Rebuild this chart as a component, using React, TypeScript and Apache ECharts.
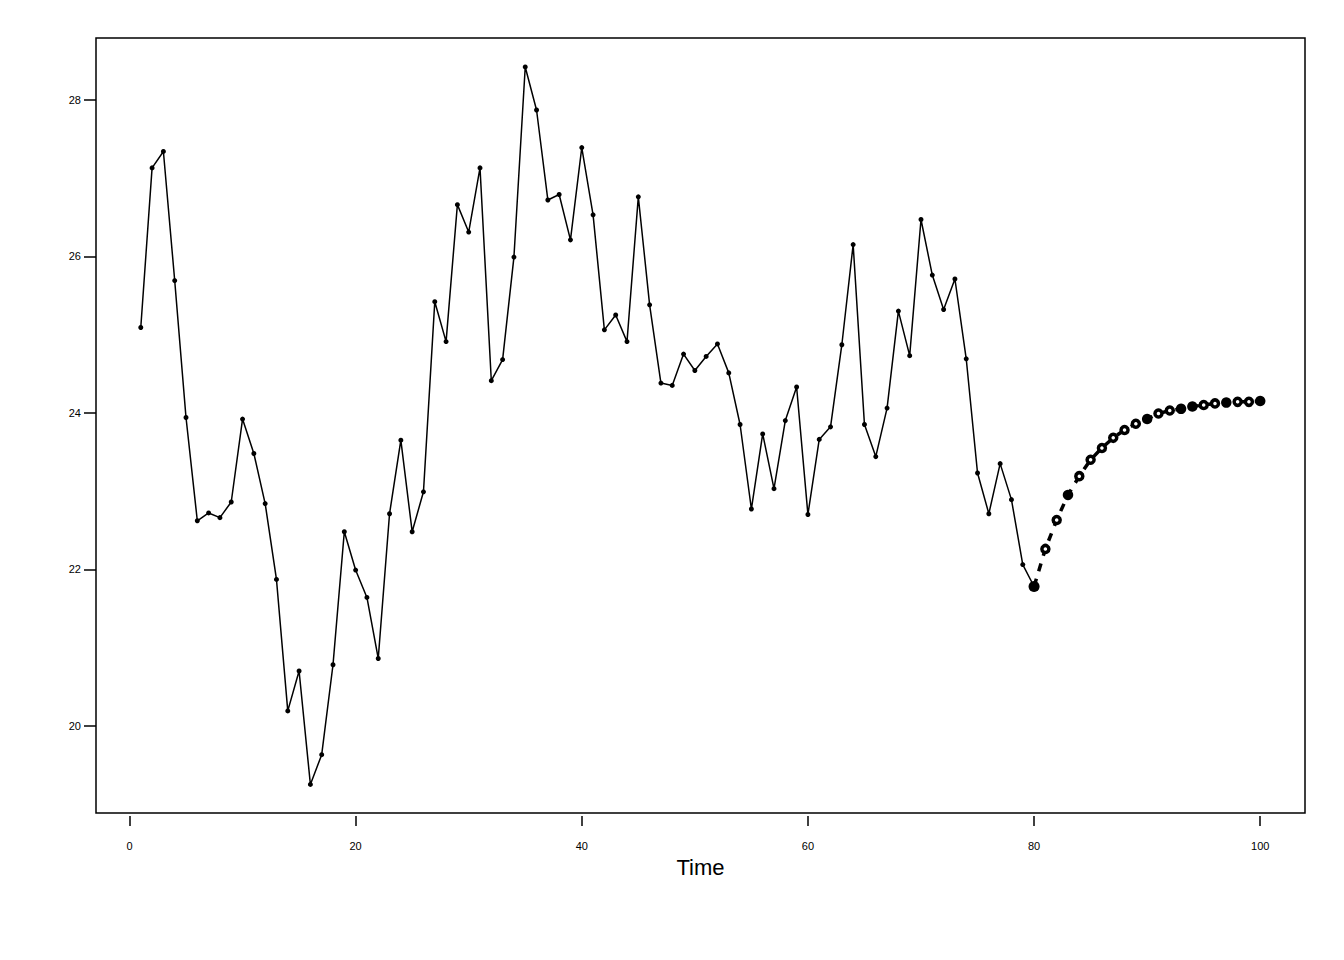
import React, { useEffect, useRef } from "react";
import * as echarts from "echarts";

const observed: number[] = [
  25.09, 27.13, 27.34, 25.69, 23.94, 22.62, 22.72, 22.66, 22.86, 23.92,
  23.48, 22.84, 21.87, 20.19, 20.70, 19.25, 19.63, 20.78, 22.48, 21.99,
  21.64, 20.86, 22.71, 23.65, 22.48, 22.99, 25.42, 24.91, 26.66, 26.31,
  27.13, 24.41, 24.68, 25.99, 28.42, 27.87, 26.72, 26.79, 26.21, 27.39,
  26.53, 25.06, 25.25, 24.91, 26.76, 25.38, 24.38, 24.35, 24.75, 24.54,
  24.72, 24.88, 24.51, 23.85, 22.77, 23.73, 23.03, 23.90, 24.33, 22.70,
  23.66, 23.82, 24.87, 26.15, 23.85, 23.44, 24.06, 25.30, 24.73, 26.47,
  25.76, 25.32, 25.71, 24.69, 23.23, 22.71, 23.35, 22.89, 22.06, 21.78,
];

// forecast from t = 80 to t = 100
const forecast: number[] = [
  21.78, 22.26, 22.63, 22.95, 23.19, 23.40, 23.55, 23.68, 23.78, 23.86,
  23.92, 23.99, 24.03, 24.05, 24.08, 24.10, 24.12, 24.13, 24.14, 24.14,
  24.15,
];
// which forecast markers appear solid (others appear as rings)
const forecastSolid: boolean[] = [
  true, false, false, true, false, false, false, false, false, false,
  true, false, false, true, true, false, false, true, false, false,
  true,
];

const xTicks: number[] = [0, 20, 40, 60, 80, 100];
const yTicks: number[] = [20, 22, 24, 26, 28];
const xName = "Time";

export default function App() {
  const ref = useRef<HTMLDivElement>(null);
  useEffect(() => {
    if (!ref.current) return;
    const chart = echarts.init(ref.current, undefined, { renderer: "svg" });
    const obsData = observed.map((v, i) => [i + 1, v]);
    const fcData = forecast.map((v, i) => {
      const solid = forecastSolid[i];
      return {
        value: [80 + i, v],
        symbolSize: i === 0 ? 11 : solid ? 10.5 : 7,
        itemStyle: solid
          ? { color: "#000", borderColor: "#000", borderWidth: 0 }
          : { color: "#fff", borderColor: "#000", borderWidth: 3.5 },
      };
    });
    const font = "'Liberation Sans', Arial, sans-serif";
    chart.setOption({
      animation: false,
      backgroundColor: "#fff",
      grid: {
        left: 96,
        top: 38,
        right: 39,
        bottom: 147,
        show: true,
        borderColor: "#000",
        borderWidth: 1.5,
        backgroundColor: "transparent",
      },
      xAxis: {
        type: "value",
        min: -2.96,
        max: 103.96,
        offset: 3,
        name: xName,
        nameLocation: "middle",
        nameGap: 40,
        nameTextStyle: { fontFamily: font, fontSize: 22, color: "#000" },
        axisLine: { show: false, onZero: false },
        axisTick: {
          show: true,
          length: 10,
          customValues: xTicks,
          lineStyle: { color: "#000", width: 1.5 },
        },
        axisLabel: {
          customValues: xTicks,
          margin: 24,
          fontFamily: font,
          fontSize: 11,
          color: "#000",
        },
        splitLine: { show: false },
      },
      yAxis: {
        type: "value",
        min: 18.885,
        max: 28.79,
        axisLine: { show: false, onZero: false },
        axisTick: {
          show: true,
          length: 12,
          customValues: yTicks,
          lineStyle: { color: "#000", width: 1.5 },
        },
        axisLabel: {
          customValues: yTicks,
          margin: 15,
          fontFamily: font,
          fontSize: 11,
          color: "#000",
        },
        splitLine: { show: false },
      },
      series: [
        {
          type: "line",
          data: obsData,
          symbol: "circle",
          symbolSize: 5,
          showSymbol: true,
          itemStyle: { color: "#000" },
          lineStyle: { color: "#000", width: 1.5 },
          z: 2,
        },
        {
          type: "line",
          data: fcData,
          symbol: "circle",
          showSymbol: true,
          lineStyle: { color: "#000", width: 3.5, type: [8, 8] },
          z: 3,
        },
      ],
    });
    return () => chart.dispose();
  }, []);
  return (
    <div
      ref={ref}
      style={{ position: "fixed", left: 0, top: 0, width: 1344, height: 960, background: "#fff" }}
    />
  );
}
